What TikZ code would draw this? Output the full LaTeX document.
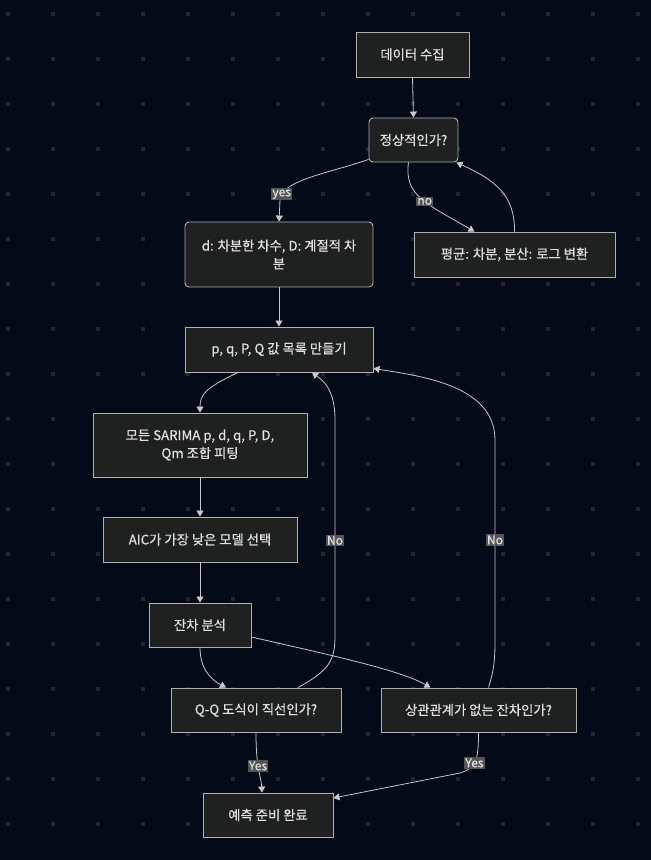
\documentclass[tikz,border=0pt]{standalone}
\usepackage{fontspec}
\setmainfont{Noto Sans CJK KR}[FakeBold=0.6]
\usetikzlibrary{arrows.meta}
\definecolor{bgNavy}{HTML}{050A19}
\definecolor{dotGray}{HTML}{23262F}
\definecolor{boxFill}{HTML}{1F2020}
\definecolor{boxLine}{HTML}{B0B0B0}
\definecolor{textGray}{HTML}{E0E0E0}
\definecolor{edgeGray}{HTML}{C8C8C8}
\definecolor{labelFill}{HTML}{555555}
\newcommand{\gridStep}{45}
\newcommand{\picWidth}{651}
\newcommand{\picHeight}{860}
\newcommand{\boxFont}{\fontsize{13.3}{18}\selectfont}

\begin{document}
\begin{tikzpicture}[x=1pt, y=-1pt,
    flowBox/.style={draw=boxLine, fill=boxFill, line width=0.9pt, text=textGray,
      font=\boxFont, align=center, inner sep=0pt},
    roundBox/.style={flowBox, rounded corners=4pt},
    flowEdge/.style={draw=edgeGray, line width=0.8pt, -{Triangle[length=6pt,width=7pt]}},
    edgeLabel/.style={fill=labelFill, text=textGray, font=\fontsize{12}{13}\selectfont,
      inner sep=1.2pt}]
  % background and dot grid
  \fill[bgNavy] (0,0) rectangle (\picWidth,\picHeight);
  \useasboundingbox (0,0) rectangle (\picWidth,\picHeight);
  \foreach \gx in {8.3,53.3,...,650}
    \foreach \gy in {14.3,59.3,...,859}
      \fill[dotGray] (\gx-2,\gy-2) rectangle (\gx+2,\gy+2);

  % nodes
  \node[flowBox, minimum width=113, minimum height=45] (collect) at (412.5,54.5) {데이터 수집};
  \node[roundBox, minimum width=89, minimum height=44] (stat) at (413.5,140) {정상적인가?};
  \node[roundBox, minimum width=188, minimum height=65] (diff) at (279,254.5) {d: 차분한 차수, D: 계절적 차\\분};
  \node[flowBox, minimum width=201, minimum height=45] (transf) at (514.5,254.5) {평균: 차분, 분산: 로그 변환};
  \node[flowBox, minimum width=188, minimum height=45] (list) at (279,349.5) {p, q, P, Q 값 목록 만들기};
  \node[flowBox, minimum width=214, minimum height=64] (fit) at (200,445) {모든 SARIMA p, d, q, P, D,\\Qm 조합 피팅};
  \node[flowBox, minimum width=194, minimum height=45] (aic) at (200,539.5) {AIC가 가장 낮은 모델 선택};
  \node[flowBox, minimum width=102, minimum height=44] (resid) at (200,625) {잔차 분석};
  \node[flowBox, minimum width=170, minimum height=44] (qq) at (256,710) {Q-Q 도식이 직선인가?};
  \node[flowBox, minimum width=195, minimum height=44] (corr) at (478.5,710) {상관관계가 없는 잔차인가?};
  \node[flowBox, minimum width=130, minimum height=44] (ready) at (268,815) {예측 준비 완료};

  % connectors
  \draw[flowEdge] (collect.south) -- (stat.north);
  \draw[flowEdge] ([yshift=3pt]stat.south west) .. controls (330,173) and (281,180)
    .. node[edgeLabel, pos=0.9] {yes} (280,200) -- (diff.north);
  \draw[flowEdge] ([xshift=-5pt]stat.south) .. controls (404,195) and (425,203)
    .. node[edgeLabel, pos=0.55] {no} ([xshift=-40pt]transf.north);
  \draw[flowEdge] (transf.north) .. controls (515,195) and (495,180) .. ([xshift=-2pt]stat.south east);
  \draw[flowEdge] (diff.south) -- (list.north);
  \draw[flowEdge] ([xshift=-41pt]list.south) .. controls (205,388) and (200,395) .. (fit.north);
  \draw[flowEdge] (fit.south) -- (aic.north);
  \draw[flowEdge] (aic.south) -- (resid.north);
  \draw[flowEdge] (resid.south) .. controls (200,670) and (212,680) .. ([xshift=-30pt]qq.north);
  \draw[flowEdge] ([yshift=-12pt]resid.east) .. controls (330,655) and (400,670) .. ([xshift=-48pt]corr.north);
  \draw[flowEdge] ([xshift=42pt]qq.north) .. controls (330,670) and (335,660) .. (335,635)
    -- node[edgeLabel, pos=0.44] {No} (335,420) .. controls (335,388) and (322,380) .. ([xshift=33pt]list.south);
  \draw[flowEdge] ([xshift=10pt]corr.north) .. controls (494,670) and (495,660) .. (495,640)
    -- node[edgeLabel, pos=0.5] {No} (495,440) .. controls (495,385) and (420,376) .. ([yshift=4pt]list.south east);
  \draw[flowEdge] (qq.south) .. controls (256,770) and (261,775) .. node[edgeLabel, pos=0.42] {Yes} ([xshift=-6pt]ready.north);
  \draw[flowEdge] (corr.south) .. controls (478.5,760) and (476,768) .. node[edgeLabel, pos=0.55] {Yes} (460,773)
    -- ([yshift=17pt]ready.east);
\end{tikzpicture}
\end{document}
